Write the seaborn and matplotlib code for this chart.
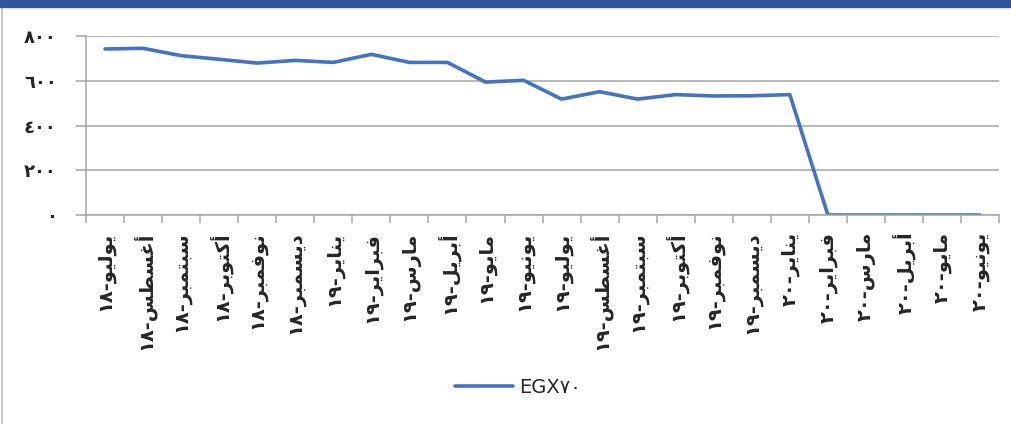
import numpy as np
import pandas as pd
import matplotlib
matplotlib.use("Agg")
import matplotlib.pyplot as plt
from matplotlib.patches import Rectangle
from matplotlib.lines import Line2D
import seaborn as sns

# ======== DATA ========
MONTHS = ["يوليو-١٨", "أغسطس-١٨", "سبتمبر-١٨", "أكتوبر-١٨", "نوفمبر-١٨", "ديسمبر-١٨",
          "يناير-١٩", "فبراير-١٩", "مارس-١٩", "أبريل-١٩", "مايو-١٩", "يونيو-١٩",
          "يوليو-١٩", "أغسطس-١٩", "سبتمبر-١٩", "أكتوبر-١٩", "نوفمبر-١٩", "ديسمبر-١٩",
          "يناير-٢٠", "فبراير-٢٠", "مارس-٢٠", "أبريل-٢٠", "مايو-٢٠", "يونيو-٢٠"]
EGX70 = [742, 745, 712, 696, 679, 691, 682, 718, 682, 682, 594, 602,
         518, 551, 518, 538, 532, 533, 538, 0, 0, 0, 0, 0]
Y_TICKS = [0, 200, 400, 600, 800]
Y_LABELS = ["٠", "٢٠٠", "٤٠٠", "٦٠٠", "٨٠٠"]
SERIES_NAME = "EGX٧٠"
# ======================

# matplotlib no hace shaping árabe: formas contextuales a mano (isol, final, init, medial)
FORMS = {
    "ا": ("\uFE8D", "\uFE8E"), "أ": ("\uFE83", "\uFE84"),
    "د": ("\uFEA9", "\uFEAA"), "ر": ("\uFEAD", "\uFEAE"), "و": ("\uFEED", "\uFEEE"),
    "ب": ("\uFE8F", "\uFE90", "\uFE91", "\uFE92"), "ت": ("\uFE95", "\uFE96", "\uFE97", "\uFE98"),
    "س": ("\uFEB1", "\uFEB2", "\uFEB3", "\uFEB4"), "ط": ("\uFEC1", "\uFEC2", "\uFEC3", "\uFEC4"),
    "غ": ("\uFECD", "\uFECE", "\uFECF", "\uFED0"), "ف": ("\uFED1", "\uFED2", "\uFED3", "\uFED4"),
    "ك": ("\uFED9", "\uFEDA", "\uFEDB", "\uFEDC"), "ل": ("\uFEDD", "\uFEDE", "\uFEDF", "\uFEE0"),
    "م": ("\uFEE1", "\uFEE2", "\uFEE3", "\uFEE4"), "ن": ("\uFEE5", "\uFEE6", "\uFEE7", "\uFEE8"),
    "ي": ("\uFEF1", "\uFEF2", "\uFEF3", "\uFEF4"),
}


def shape_ar(label):
    word, num = label.split("-")
    out = []
    for i, c in enumerate(word):
        f = FORMS[c]
        jp = i > 0 and len(FORMS[word[i - 1]]) == 4
        jn = i + 1 < len(word) and len(f) == 4
        if jp and jn:
            out.append(f[3])
        elif jp:
            out.append(f[1])
        elif jn:
            out.append(f[2])
        else:
            out.append(f[0])
    # orden visual de izquierda a derecha
    return num + "-" + "".join(reversed(out))


sns.set_style("white")
plt.rcParams["font.family"] = ["DejaVu Sans"]

df = pd.DataFrame({"month": MONTHS, "value": EGX70})

fig = plt.figure(figsize=(10.11, 4.24), dpi=100)
ax = fig.add_axes([0.0851, 0.4929, 0.9031, 0.4222])

sns.lineplot(data=df, x="month", y="value", sort=False, ax=ax,
             color="#4472C4", linewidth=2.6, legend=False)

grid_c = "#A6A6A6"
ax.set_ylim(0, 800)
ax.set_xlim(-0.5, len(MONTHS) - 0.5)
ax.set_yticks(Y_TICKS, labels=Y_LABELS)
ax.set_xticks(range(len(MONTHS)), labels=[shape_ar(m) for m in MONTHS])
ax.set_xticks(np.arange(-0.5, len(MONTHS), 1), minor=True)
ax.yaxis.grid(True, color=grid_c, linewidth=1.1)
ax.set_axisbelow(True)
ax.set_xlabel("")
ax.set_ylabel("")

for s in ["top", "right"]:
    ax.spines[s].set_visible(False)
for s in ["left", "bottom"]:
    ax.spines[s].set_color(grid_c)
    ax.spines[s].set_linewidth(1.1)

ax.tick_params(axis="x", which="major", length=0, pad=12, rotation=90)
ax.tick_params(axis="x", which="minor", length=6, color=grid_c, width=1.1, direction="out", bottom=True)
ax.tick_params(axis="y", length=7, color=grid_c, width=1.1, pad=14, left=True)
for t in ax.get_xticklabels():
    t.set_fontsize(14)
    t.set_fontweight("bold")
    t.set_va("top")
    t.set_ha("center")
for t in ax.get_yticklabels():
    t.set_fontsize(13)
    t.set_fontweight("bold")

# leyenda
h = Line2D([], [], color="#4472C4", linewidth=2.6)
fig.legend([h], [SERIES_NAME], loc="center", bbox_to_anchor=(0.512, 0.087),
           frameon=False, fontsize=14, handlelength=3.0, handletextpad=0.3)

# marco del gráfico estilo Excel
fig.patches.append(Rectangle((0, 1 - 7 / 424), 1, 7 / 424, transform=fig.transFigure,
                             color="#2F5597", zorder=5))
fig.lines.append(Line2D([2 / 1011, 2 / 1011], [0, 1 - 7 / 424], transform=fig.transFigure,
                        color="#BFBFBF", linewidth=1.2))

fig.savefig("out.png", dpi=100)
